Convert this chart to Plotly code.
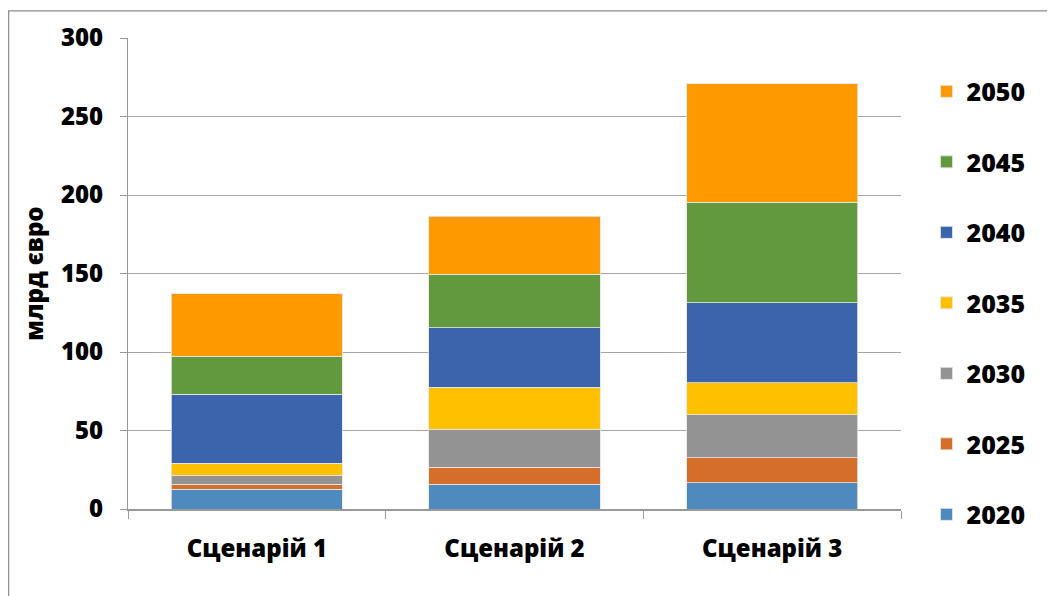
import plotly.graph_objects as go

categories = ["Сценарій 1", "Сценарій 2", "Сценарій 3"]
years = ["2020", "2025", "2030", "2035", "2040", "2045", "2050"]
v2020 = [12.7, 15.7, 16.7]
v2025 = [3.0, 10.9, 16.1]
v2030 = [5.9, 24.3, 27.3]
v2035 = [7.4, 26.5, 20.2]
v2040 = [44.1, 38.2, 51.2]
v2045 = [24.1, 33.9, 63.8]
v2050 = [40.0, 37.1, 75.7]
series = [v2020, v2025, v2030, v2035, v2040, v2045, v2050]
colors = ["#4f8abe", "#d46e2a", "#939393", "#ffc000", "#3c64ad", "#62993e", "#ff9900"]
y_ticks = [0, 50, 100, 150, 200, 250, 300]

fig = go.Figure()
n = len(years)
for i, (name, vals, col) in enumerate(zip(years, series, colors)):
    fig.add_trace(go.Bar(
        x=categories, y=vals, name=name, legendgroup=name, legendrank=n - i,
        marker=dict(color=col, line=dict(color="rgba(230,230,230,0.8)", width=1)),
    ))

font_family = "Open Sans"
W = 800
fig.update_layout(
    barmode="stack",
    bargap=0.336,
    width=1047, height=588,
    margin=dict(l=120, r=154, t=28, b=87),
    paper_bgcolor="white", plot_bgcolor="white",
    font=dict(family=font_family, color="black"),
    showlegend=True,
    legend=dict(
        traceorder="grouped", tracegroupgap=35,
        x=1.033, xanchor="left", y=0.935, yanchor="top",
        font=dict(size=25, family=font_family, weight=W, color="black"),
        itemwidth=30, maxheight=580,
    ),
    xaxis=dict(
        showline=True, linecolor="#999999", linewidth=1.5,
        ticks="outside", tickson="boundaries", ticklen=8, tickcolor="#999999",
        tickfont=dict(size=24, family=font_family, weight=W, color="black"),
        ticklabelstandoff=17,
    ),
    yaxis=dict(
        range=[0, 300], tickvals=y_ticks,
        showgrid=True, gridcolor="#a6a6a6", gridwidth=1.2,
        showline=True, linecolor="#999999", linewidth=1.2,
        ticks="outside", ticklen=7, tickcolor="#999999",
        tickfont=dict(size=24, family=font_family, weight=W, color="black"),
        ticklabelstandoff=12,
        zeroline=False,
        title=dict(text="млрд євро", standoff=10,
                   font=dict(size=24, family=font_family, weight=W, color="black")),
    ),
    shapes=[dict(type="rect", xref="paper", yref="paper",
                 x0=-0.1544, x1=1.1915, y0=-0.25, y1=1.0575,
                 line=dict(color="#8c8c8c", width=1.2), fillcolor="rgba(0,0,0,0)", layer="above")],
)

fig.write_html("out.html")
